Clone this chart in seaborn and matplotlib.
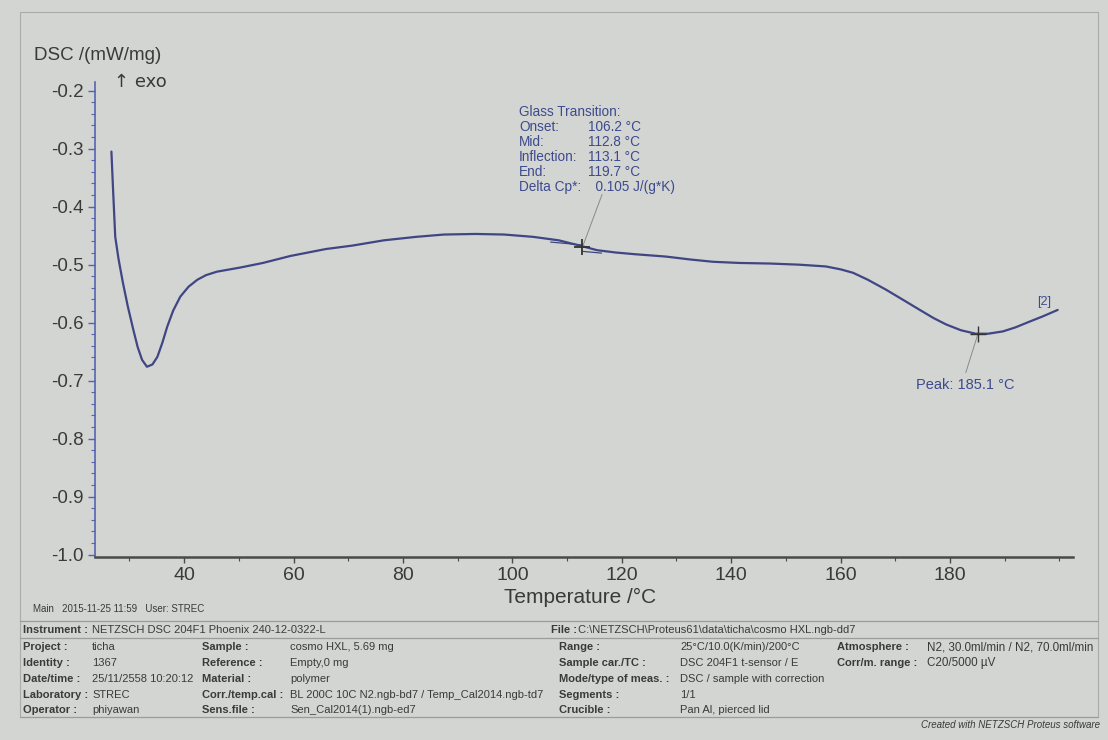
import matplotlib
matplotlib.use("Agg")
import matplotlib.pyplot as plt
import seaborn as sns
import pandas as pd
from matplotlib.ticker import MultipleLocator, FormatStrFormatter
from matplotlib.lines import Line2D

# ---------------- data ----------------
temperature = [26.7, 27.0, 27.4, 28.0, 28.8, 29.7, 30.7, 31.5, 32.3, 33.2, 34.2, 35.1,
               36.0, 36.9, 38.0, 39.3, 40.8, 42.4, 44.0, 46.0, 50.2, 54.4, 59.4, 65.9,
               70.8, 76.5, 82.4, 87.5, 93.3, 98.5, 103.8, 108.5, 112.3, 115.5, 118.9,
               122.5, 128.1, 132.5, 136.7, 141.5, 147.1, 152.5, 157.3, 160.0, 162.3,
               165.0, 168.3, 171.5, 174.5, 177.0, 179.3, 182.0, 184.7, 187.0, 189.7,
               192.0, 194.6, 197.0, 199.7]
dsc = [-0.305, -0.37, -0.452, -0.49, -0.531, -0.572, -0.612, -0.642, -0.664, -0.676,
       -0.672, -0.659, -0.635, -0.607, -0.579, -0.555, -0.538, -0.526, -0.518, -0.512,
       -0.505, -0.497, -0.485, -0.473, -0.467, -0.458, -0.452, -0.448, -0.447, -0.448,
       -0.452, -0.458, -0.467, -0.475, -0.479, -0.482, -0.486, -0.491, -0.495, -0.497,
       -0.498, -0.500, -0.503, -0.508, -0.514, -0.526, -0.543, -0.561, -0.578, -0.592,
       -0.603, -0.613, -0.619, -0.619, -0.615, -0.608, -0.598, -0.589, -0.578]

x_ticks = [40, 60, 80, 100, 120, 140, 160, 180]
y_ticks = [-1.0, -0.9, -0.8, -0.7, -0.6, -0.5, -0.4, -0.3, -0.2]

glass_mid = (112.8, -0.470)
glass_tangent_1 = ([107.0, 112.8], [-0.461, -0.466])
glass_tangent_2 = ([112.8, 116.3], [-0.477, -0.480])
glass_leader = ([112.8, 116.4], [-0.470, -0.379])
glass_lines = [("Glass Transition:", ""),
               ("Onset:", "106.2 \u00b0C"),
               ("Mid:", "112.8 \u00b0C"),
               ("Inflection:", "113.1 \u00b0C"),
               ("End:", "119.7 \u00b0C"),
               ("Delta Cp*:", "  0.105 J/(g*K)")]

peak = (185.1, -0.620)
peak_leader = ([185.1, 182.9], [-0.620, -0.686])
peak_label = "Peak: 185.1 \u00b0C"

table_left = [
    [("Project :", "ticha"), ("Sample :", "cosmo HXL, 5.69 mg")],
    [("Identity :", "1367"), ("Reference :", "Empty,0 mg")],
    [("Date/time :", "25/11/2558 10:20:12"), ("Material :", "polymer")],
    [("Laboratory :", "STREC"), ("Corr./temp.cal :", "BL 200C 10C N2.ngb-bd7 / Temp_Cal2014.ngb-td7")],
    [("Operator :", "phiyawan"), ("Sens.file :", "Sen_Cal2014(1).ngb-ed7")],
]
table_right = [
    [("Range :", "25\u00b0C/10.0(K/min)/200\u00b0C"), ("Atmosphere :", "N2, 30.0ml/min / N2, 70.0ml/min")],
    [("Sample car./TC :", "DSC 204F1 t-sensor / E"), ("Corr/m. range :", "C20/5000 \u00b5V")],
    [("Mode/type of meas. :", "DSC / sample with correction"), None],
    [("Segments :", "1/1"), None],
    [("Crucible :", "Pan Al, pierced lid"), None],
]

# ---------------- style ----------------
sns.set_theme(style="white")
plt.rcParams["font.family"] = ["Liberation Sans", "DejaVu Sans"]
plt.rcParams["axes.unicode_minus"] = False

W, H = 1108, 740
bg = "#d3d5d2"
curve_col = "#3f4683"
ann_col = "#3d4a8e"
txt_col = "#3a3a3a"
axis_blue = "#5563b0"

fig = plt.figure(figsize=(W / 100, H / 100), dpi=100, facecolor=bg)


def fx(px):
    return px / W


def fy(py):
    return 1 - py / H


ax = fig.add_axes([fx(95), fy(557), fx(1073) - fx(95), fy(82) - fy(557)])
ax.set_facecolor("none")

df = pd.DataFrame({"T": temperature, "DSC": dsc})
sns.lineplot(data=df, x="T", y="DSC", ax=ax, color=curve_col, linewidth=1.6,
             sort=False, legend=False)

ax.set_xlim(23.7, 202.5)
ax.set_ylim(-1.004, -0.185)
ax.set_xticks(x_ticks)
ax.set_yticks(y_ticks)
ax.xaxis.set_minor_locator(MultipleLocator(10))
ax.yaxis.set_minor_locator(MultipleLocator(0.02))
ax.yaxis.set_major_formatter(FormatStrFormatter("%.1f"))
ax.set_xlabel("")
ax.set_ylabel("")

for s in ["top", "right"]:
    ax.spines[s].set_visible(False)
ax.spines["left"].set_color(axis_blue)
ax.spines["left"].set_linewidth(1.2)
ax.spines["bottom"].set_color("#4a4a4a")
ax.spines["bottom"].set_linewidth(1.8)

ax.tick_params(axis="y", which="major", direction="out", length=5, width=1,
               color=axis_blue, labelsize=13.5, labelcolor=txt_col, pad=3, left=True)
ax.tick_params(axis="y", which="minor", direction="out", length=3, width=0.8,
               color=axis_blue, left=True)
ax.tick_params(axis="x", which="major", direction="out", length=4, width=1,
               color="#4a4a4a", labelsize=14, labelcolor=txt_col, pad=3, bottom=True)
ax.tick_params(axis="x", which="minor", direction="out", length=3, width=0.8,
               color="#4a4a4a", bottom=True)

# glass transition construction
ax.plot(*glass_tangent_1, color=curve_col, linewidth=0.9)
ax.plot(*glass_tangent_2, color=curve_col, linewidth=0.9)
ax.plot(*glass_leader, color="#8a8a8a", linewidth=0.7)
ax.plot([glass_mid[0]], [glass_mid[1]], marker="+", markersize=11,
        markeredgewidth=1.3, color="#333333")

# peak
ax.plot(*peak_leader, color="#8a8a8a", linewidth=0.7)
ax.plot([peak[0]], [peak[1]], marker="+", markersize=11,
        markeredgewidth=1.0, color="#333333")
ax.text(peak_leader[0][1] - 9.1, peak_leader[1][1] - 0.022, peak_label,
        fontsize=10.5, color=ann_col, ha="left", va="center")
ax.text(temperature[-1] - 3.8, dsc[-1] + 0.004, "[2]", fontsize=9,
        color=ann_col, ha="left", va="bottom")

# glass transition text block
for i, (lab, val) in enumerate(glass_lines):
    yy = 112 + 15 * i
    fig.text(fx(519), fy(yy), lab, fontsize=9.8, color=ann_col, ha="left", va="center")
    if val:
        fig.text(fx(588), fy(yy), val, fontsize=9.8, color=ann_col, ha="left", va="center")

# axis titles
fig.text(fx(34), fy(55), "DSC /(mW/mg)", fontsize=13.5, color=txt_col,
         ha="left", va="center")
fig.text(fx(114), fy(82), "\u2191 exo", fontsize=13, color=txt_col,
         ha="left", va="center", family=["DejaVu Sans"])
fig.text(fx(580), fy(597), "Temperature /\u00b0C", fontsize=15, color=txt_col,
         ha="center", va="center")

# page frame
frame_col = "#a9aca9"
for (x0, y0, x1, y1) in [(20, 12, 1098, 12), (20, 12, 20, 717), (1098, 12, 1098, 717)]:
    fig.add_artist(Line2D([fx(x0), fx(x1)], [fy(y0), fy(y1)], color=frame_col,
                          linewidth=0.8, transform=fig.transFigure))

# footer
fig.text(fx(33), fy(609), "Main   2015-11-25 11:59   User: STREC", fontsize=7,
         color=txt_col, ha="left", va="center")

for yline in (621, 638, 717):
    fig.add_artist(Line2D([fx(20), fx(1098)], [fy(yline), fy(yline)], color="#9a9d9a",
                          linewidth=0.9, transform=fig.transFigure))

tfs = 8
fig.text(fx(23), fy(630), "Instrument :", fontsize=tfs, fontweight="bold",
         color=txt_col, ha="left", va="center")
fig.text(fx(92), fy(630), "NETZSCH DSC 204F1 Phoenix 240-12-0322-L", fontsize=tfs,
         color=txt_col, ha="left", va="center")
fig.text(fx(551), fy(630), "File :", fontsize=tfs, fontweight="bold",
         color=txt_col, ha="left", va="center")
fig.text(fx(578), fy(630), "C:\\NETZSCH\\Proteus61\\data\\ticha\\cosmo HXL.ngb-dd7",
         fontsize=tfs, color=txt_col, ha="left", va="center")

row_y = [647, 663, 679, 695, 710]
left_cols = [(23, 92), (202, 290)]
right_cols = [(559, 680), (837, 927)]
for r, yy in enumerate(row_y):
    for c, cell in enumerate(table_left[r]):
        if cell is None:
            continue
        lx, vx = left_cols[c]
        fig.text(fx(lx), fy(yy), cell[0], fontsize=tfs, fontweight="bold",
                 color=txt_col, ha="left", va="center")
        fig.text(fx(vx), fy(yy), cell[1], fontsize=tfs, color=txt_col,
                 ha="left", va="center")
    for c, cell in enumerate(table_right[r]):
        if cell is None:
            continue
        lx, vx = right_cols[c]
        fig.text(fx(lx), fy(yy), cell[0], fontsize=tfs, fontweight="bold",
                 color=txt_col, ha="left", va="center")
        fig.text(fx(vx), fy(yy), cell[1], fontsize=8.4 if c == 1 else tfs,
                 color=txt_col, ha="left", va="center")

fig.text(fx(1100), fy(725), "Created with NETZSCH Proteus software", fontsize=7,
         style="italic", color=txt_col, ha="right", va="center")

fig.savefig("out.png", dpi=100, facecolor=bg)
